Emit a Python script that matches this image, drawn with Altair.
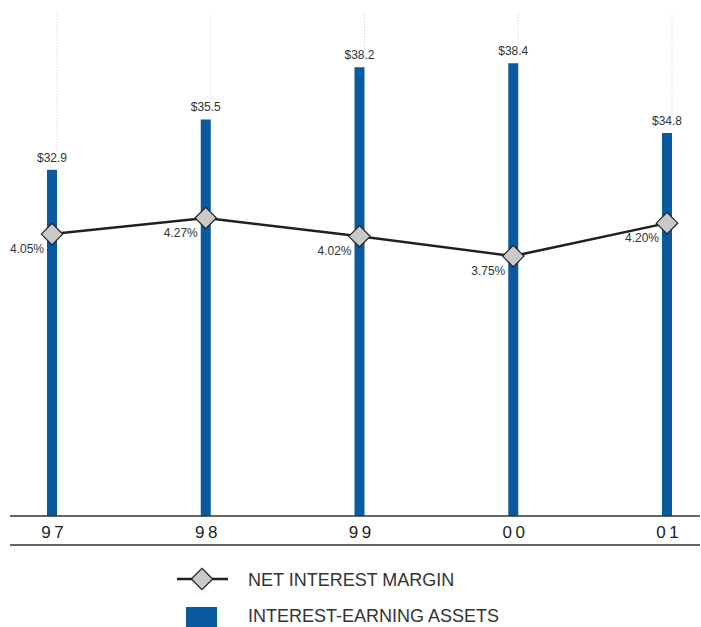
import altair as alt
import pandas as pd

years = ["97", "98", "99", "00", "01"]
assets = [32.9, 35.5, 38.2, 38.4, 34.8]
asset_labels = ["$32.9", "$35.5", "$38.2", "$38.4", "$34.8"]
margins = [4.05, 4.27, 4.02, 3.75, 4.20]
margin_labels = ["4.05%", "4.27%", "4.02%", "3.75%", "4.20%"]
legend_labels = ["NET INTEREST MARGIN", "INTEREST-EARNING ASSETS"]

df = pd.DataFrame({
    "year": years,
    "assets": assets,
    "asset_label": asset_labels,
    "margin": margins,
    "margin_label": margin_labels,
})
one = pd.DataFrame({"k": [0]})

W, H = 690, 503
FONT = "Liberation Sans"
BLUE = "#0a5a9f"
DARK = "#231f20"

x_enc = alt.X(
    "year:N", sort=years,
    scale=alt.Scale(type="point", range=[42, 657], padding=0),
    axis=alt.Axis(title=None, domain=False, ticks=False, grid=False, labelAngle=0,
                  labelFontSize=17, labelColor="#222", labelFont=FONT, labelPadding=8,
                  labelExpr="substring(datum.label,0,1) + '\u2009' + substring(datum.label,1)"),
)
base = alt.Chart(df).encode(x=x_enc)

y_assets = alt.Y("assets:Q", scale=alt.Scale(domain=[15, 41], zero=False, nice=False), axis=None)
y_margin = alt.Y("margin:Q", scale=alt.Scale(domain=[0.2, 7.07], zero=False, nice=False), axis=None)

grid = base.mark_rule(xOffset=5, yOffset=-18, strokeDash=[1, 2], color="#c8c8c8", strokeWidth=1).encode(
    y=y_assets, y2=alt.value(0))
bars = base.mark_bar(size=10, color=BLUE).encode(y=y_assets, y2=alt.datum(15))
blabels = base.mark_text(dy=-5, baseline="bottom", fontSize=12, color="#333", font=FONT).encode(
    y=y_assets, text="asset_label:N")
asset_layer = alt.layer(grid, bars, blabels)

line = base.mark_line(color=DARK, strokeWidth=2.5).encode(y=y_margin)
pts = base.mark_point(shape="diamond", filled=True, fill="#c9c9c9", stroke=DARK, strokeWidth=1.2,
                      size=460, opacity=1).encode(y=y_margin)
mlabels = base.mark_text(align="right", baseline="top", dx=-8, dy=10, fontSize=12, color="#333",
                         font=FONT).encode(y=y_margin, text="margin_label:N")
margin_layer = alt.layer(line, pts, mlabels)

axis_top = alt.Chart(one).mark_rule(color="#333", strokeWidth=1.5).encode(
    x=alt.value(0), x2=alt.value(W), y=alt.value(H))
axis_bot = alt.Chart(one).mark_rule(color="#333", strokeWidth=1.5).encode(
    x=alt.value(0), x2=alt.value(W), y=alt.value(532))

leg_line = alt.Chart(one).mark_rule(color=DARK, strokeWidth=2.5).encode(
    x=alt.value(167), x2=alt.value(218), y=alt.value(566))
leg_pt = alt.Chart(one).mark_point(shape="diamond", filled=True, fill="#c9c9c9", stroke=DARK,
                                   strokeWidth=1.2, size=460, opacity=1).encode(
    x=alt.value(192), y=alt.value(566))
leg_rect = alt.Chart(one).mark_rect(color=BLUE).encode(
    x=alt.value(176), x2=alt.value(207), y=alt.value(594), y2=alt.value(616))
leg_t1 = alt.Chart(one).mark_text(align="left", baseline="middle", fontSize=18, color="#333",
                                  font=FONT).encode(
    x=alt.value(238), y=alt.value(568), text=alt.value(legend_labels[0]))
leg_t2 = alt.Chart(one).mark_text(align="left", baseline="middle", fontSize=18, color="#333",
                                  font=FONT).encode(
    x=alt.value(238), y=alt.value(604), text=alt.value(legend_labels[1]))

chart = alt.layer(
    asset_layer, margin_layer, axis_top, axis_bot,
    leg_line, leg_pt, leg_rect, leg_t1, leg_t2,
).resolve_scale(y="independent").properties(
    width=W, height=H,
    autosize=alt.AutoSizeParams(type="none"),
    padding={"left": 10, "top": 13, "right": 1, "bottom": 111},
    background="white",
).configure_view(stroke=None)

chart.save("out.html", embed_options={"renderer": "svg", "actions": False})
